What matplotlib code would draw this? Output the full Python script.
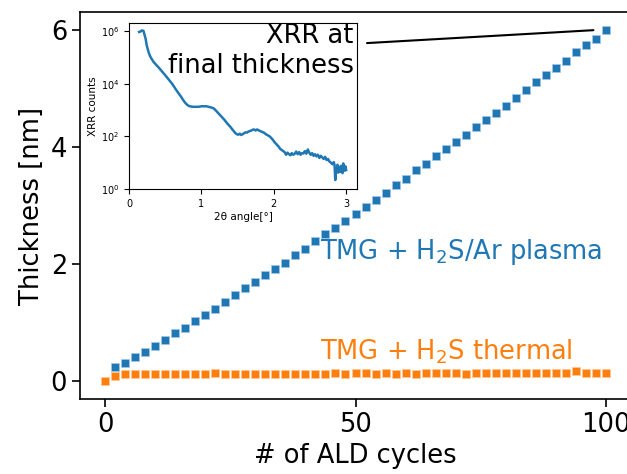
import matplotlib
matplotlib.use("Agg")
import matplotlib.pyplot as plt
import numpy as np

# ---- main panel data ----
plasma_cycles = list(range(2, 101, 2))
plasma_thickness = [0.25, 0.32, 0.42, 0.51, 0.61, 0.71, 0.83, 0.91, 1.03, 1.14,
                    1.24, 1.36, 1.47, 1.59, 1.70, 1.81, 1.91, 2.02, 2.15, 2.26,
                    2.39, 2.51, 2.61, 2.74, 2.86, 2.97, 3.10, 3.22, 3.35, 3.45,
                    3.60, 3.71, 3.84, 3.97, 4.08, 4.20, 4.34, 4.45, 4.58, 4.70,
                    4.83, 4.97, 5.11, 5.22, 5.35, 5.47, 5.62, 5.73, 5.84, 5.99]

thermal_cycles = list(range(0, 101, 2))
thermal_thickness = [0.00, 0.09, 0.12, 0.12, 0.12, 0.12, 0.13, 0.12, 0.12, 0.12,
                     0.12, 0.14, 0.12, 0.13, 0.13, 0.13, 0.13, 0.13, 0.13, 0.13,
                     0.13, 0.13, 0.13, 0.14, 0.13, 0.14, 0.14, 0.13, 0.14, 0.13,
                     0.14, 0.13, 0.14, 0.14, 0.14, 0.14, 0.13, 0.14, 0.14, 0.14,
                     0.15, 0.14, 0.15, 0.15, 0.15, 0.15, 0.15, 0.17, 0.15, 0.15,
                     0.15]

# ---- inset XRR data (2theta in degrees, log10 counts) ----
xrr_angle = [0.14, 0.16, 0.18, 0.20, 0.21, 0.23, 0.245, 0.27, 0.29, 0.31,
             0.34, 0.38, 0.42, 0.46, 0.50, 0.55, 0.60, 0.64, 0.68, 0.72,
             0.75, 0.78, 0.81, 0.84, 0.88, 0.92, 0.96, 1.00, 1.04, 1.07,
             1.10, 1.14, 1.17, 1.20, 1.24, 1.28, 1.32, 1.36, 1.40, 1.44,
             1.47, 1.49, 1.51, 1.53, 1.55, 1.57, 1.59, 1.61, 1.63, 1.65,
             1.67, 1.69, 1.71, 1.73, 1.75, 1.77, 1.79, 1.81, 1.83, 1.85,
             1.87, 1.89, 1.91, 1.93, 1.95, 1.97, 1.99, 2.01, 2.03, 2.05,
             2.07, 2.09, 2.11, 2.13, 2.15, 2.17, 2.19, 2.21, 2.23, 2.25,
             2.27, 2.29, 2.31, 2.33, 2.35, 2.37, 2.39, 2.41, 2.43, 2.45,
             2.47, 2.49, 2.51, 2.53, 2.55, 2.57, 2.59, 2.61, 2.63, 2.65,
             2.67, 2.69, 2.71, 2.73, 2.75, 2.77, 2.79, 2.81, 2.83, 2.84,
             2.85, 2.86, 2.87, 2.88, 2.89, 2.90, 2.91, 2.92, 2.93, 2.94,
             2.95, 2.96, 2.97, 2.98, 2.99, 3.00]
xrr_log_counts = [5.96, 5.98, 6.02, 6.00, 5.90, 5.70, 5.45, 5.20, 5.05, 4.95,
                  4.82, 4.70, 4.58, 4.45, 4.32, 4.15, 3.98, 3.81, 3.65, 3.50,
                  3.37, 3.26, 3.18, 3.14, 3.12, 3.12, 3.12, 3.14, 3.14, 3.14,
                  3.12, 3.09, 3.06, 2.98, 2.86, 2.74, 2.62, 2.48, 2.36, 2.22,
                  2.12, 2.08, 2.06, 2.10, 2.05, 2.08, 2.12, 2.15, 2.14, 2.18,
                  2.20, 2.22, 2.25, 2.26, 2.22, 2.26, 2.23, 2.20, 2.18, 2.15,
                  2.13, 2.08, 2.05, 2.02, 1.98, 1.92, 1.86, 1.78, 1.72, 1.66,
                  1.60, 1.52, 1.48, 1.44, 1.40, 1.30, 1.38, 1.32, 1.28, 1.36,
                  1.30, 1.34, 1.42, 1.32, 1.40, 1.30, 1.36, 1.35, 1.44, 1.34,
                  1.50, 1.38, 1.30, 1.36, 1.26, 1.32, 1.24, 1.30, 1.18, 1.26,
                  1.20, 1.14, 1.22, 1.10, 1.14, 1.04, 1.00, 0.94, 1.02, 0.90,
                  0.34, 0.78, 0.70, 0.92, 0.62, 0.84, 0.70, 0.65, 0.88, 0.72,
                  0.60, 0.97, 0.80, 0.70, 0.86, 0.72]

blue = "#1f77b4"
orange = "#ff7f0e"
fs = 18.5

fig = plt.figure(figsize=(6.27, 4.74), dpi=100)
ax = fig.add_axes([80 / 627, 1 - 399 / 474, 551 / 627, 387 / 474])

ax.plot(plasma_cycles, plasma_thickness, "s", color=blue, ms=6, mec="#a6c8e6", mew=0.5)
ax.plot(thermal_cycles, thermal_thickness, "s", color=orange, ms=6, mec="#ffc89a", mew=0.5)
ax.set_xlim(-5, 105)
ax.set_ylim(-0.3, 6.3)
ax.set_xticks([0, 50, 100])
ax.set_yticks([0, 2, 4, 6])
ax.tick_params(labelsize=fs, width=1.2, length=5.8)
for sp in ax.spines.values():
    sp.set_linewidth(1.2)
ax.set_xlabel("# of ALD cycles", fontsize=fs)
ax.set_ylabel("Thickness [nm]", fontsize=fs)

ax.text(43, 2.2, "TMG + H$_2$S/Ar plasma", color=blue, fontsize=fs,
        ha="left", va="center")
ax.text(43, 0.51, "TMG + H$_2$S thermal", color=orange, fontsize=fs,
        ha="left", va="center")
ax.annotate("", xy=(97.5, 5.99), xytext=(52.3, 5.77),
            arrowprops=dict(arrowstyle="-", color="black", lw=1.5,
                            shrinkA=0, shrinkB=0))

# inset
ins = fig.add_axes([129 / 627, 1 - 189 / 474, 228 / 627, 166 / 474])
ins.plot(xrr_angle, 10 ** np.array(xrr_log_counts), color=blue, lw=1.8)
ins.set_yscale("log")
ins.set_xlim(0, 3.15)
ins.set_ylim(1, 2e6)
ins.set_xticks([0, 1, 2, 3])
ins.set_yticks([1, 1e2, 1e4, 1e6])
ins.minorticks_off()
ins.tick_params(labelsize=7)
ins.set_xlabel("2θ angle[°]", fontsize=7.5, labelpad=2)
ins.set_ylabel("XRR counts", fontsize=7.5, labelpad=2)
ins.text(0.985, 1.0, "XRR at\nfinal thickness", transform=ins.transAxes,
         fontsize=fs, ha="right", va="top", multialignment="right",
         linespacing=1.2)

fig.savefig("out.png", dpi=100)
